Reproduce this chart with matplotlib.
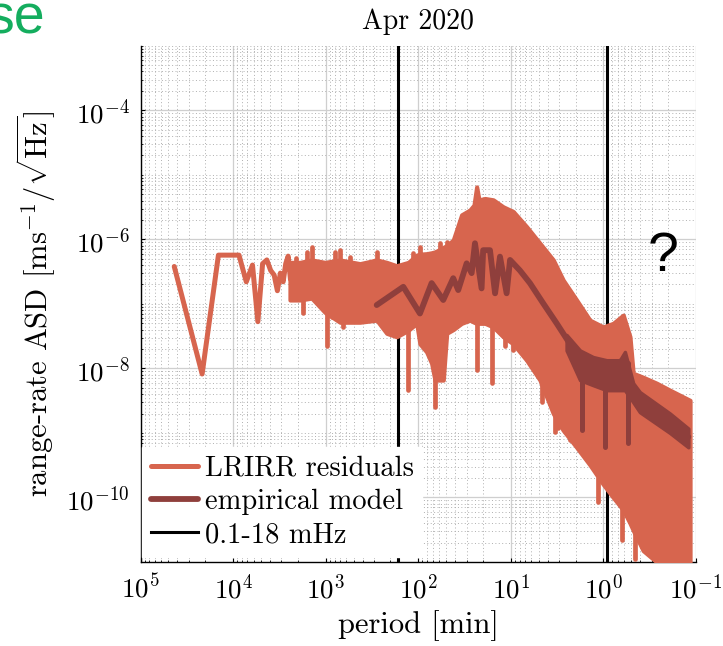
import numpy as np
import matplotlib
matplotlib.use("Agg")
import matplotlib.pyplot as plt
from matplotlib.ticker import LogLocator, NullFormatter

plt.rcParams['font.family'] = ['cmr10', 'DejaVu Serif']
plt.rcParams['mathtext.fontset'] = 'cm'
plt.rcParams['axes.formatter.use_mathtext'] = True
plt.rcParams['axes.unicode_minus'] = False

# ---------------- data (period in min, ASD in m s^-1 / sqrt(Hz)) ----------------
# sparse low-frequency part of the residual spectrum
resid_period = [43200, 21600, 14400, 10800, 8640, 7200, 6171, 5400, 4800, 4320,
                3927, 3600, 3323, 3086, 2880, 2700, 2541, 2400]
resid_asd = [3.8e-7, 8.2e-9, 5.7e-7, 5.7e-7, 5.7e-7, 2.2e-7, 4.0e-7, 5.3e-8, 4.2e-7, 4.8e-7,
             3.3e-7, 2.8e-7, 1.6e-7, 3.0e-7, 2.2e-7, 4.2e-7, 5.5e-7, 2.4e-7]

# dense part of the residual spectrum: envelope (upper / lower)
band_period = [2430, 1894, 1417, 1018, 701, 426, 281, 219, 171, 128, 104, 95.9, 81.2,
               71.7, 66.0, 58.3, 53.7, 49.3, 41.9, 34.0, 27.7, 25.0, 23.4, 22.1, 19.0,
               15.5, 12.1, 9.42, 6.75, 4.85, 3.48, 2.72, 1.95, 1.40, 1.005, 0.784, 0.611,
               0.517, 0.477, 0.372, 0.266, 0.191, 0.116]
band_high = [4.4e-7, 4.4e-7, 4.8e-7, 4.4e-7, 4.8e-7, 4.2e-7, 4.8e-7, 4.4e-7, 3.9e-7, 4.4e-7,
             5.7e-7, 5.9e-7, 6.0e-7, 6.2e-7, 6.4e-7, 7.0e-7, 7.5e-7, 8.0e-7, 9.75e-7, 2.4e-6,
             2.85e-6, 3.4e-6, 6.5e-6, 4.1e-6, 4.3e-6, 4.1e-6, 3.2e-6, 2.7e-6, 1.57e-6, 8.7e-7,
             4.8e-7, 2.34e-7, 1.15e-7, 5.6e-8, 4.4e-8, 5.0e-8, 6.7e-8, 3.1e-8, 8.4e-9, 7.3e-9,
             5.9e-9, 4.6e-9, 3.2e-9]
band_low = [1.15e-7, 1.15e-7, 1.23e-7, 7.4e-8, 5.2e-8, 5.2e-8, 5.6e-8, 3.5e-8, 3.1e-8, 3.9e-8,
            5.0e-8, 2.4e-8, 1.8e-8, 1.2e-8, 6.6e-9, 6.6e-9, 6.6e-9, 3.5e-8, 4.0e-8, 5.0e-8,
            5.6e-8, 5.2e-8, 5.0e-8, 5.0e-8, 5.0e-8, 4.4e-8, 3.1e-8, 2.4e-8, 1.34e-8, 6.6e-9,
            2.0e-9, 1.1e-9, 6.0e-10, 3.2e-10, 1.6e-10, 1.0e-10, 6.4e-11, 4.0e-11, 3.1e-11,
            1.5e-11, 1.0e-11, 8e-12, 8e-12]

# narrow downward spikes of the residual spectrum
spike_period = [1745, 975, 861, 646, 128, 66.0, 23.4, 16.1, 11.6, 9.42, 4.65, 3.34, 3.08,
                2.30, 1.14, 0.636, 0.457]
spike_low = [7.1e-8, 2.2e-8, 6.3e-8, 4.4e-8, 4.6e-9, 2.5e-9, 9.4e-9, 5.9e-9, 2.2e-8, 1.9e-8,
             3.0e-9, 1.04e-9, 1.2e-9, 7.7e-10, 8.6e-11, 2.2e-11, 1.1e-11]
spike_high = [1.2e-7, 8.0e-8, 8.0e-8, 6.0e-8, 4.0e-8, 1.5e-8, 5.0e-8, 5.0e-8, 3.2e-8, 2.6e-8,
              6.5e-9, 2.2e-9, 2.0e-9, 1.1e-9, 2.0e-10, 7.0e-11, 3.2e-11]
# narrow upward teeth of the residual spectrum
tooth_period = [2094, 1604, 1417, 794, 701, 547, 281, 113, 95.9, 58.3, 49.3]
tooth_high = [5.1e-7, 6.4e-7, 7.7e-7, 6.4e-7, 6.8e-7, 5.4e-7, 6.4e-7, 6.1e-7, 7.7e-7, 8.7e-7,
              9.2e-7]
tooth_low = [4.0e-7, 4.0e-7, 4.0e-7, 4.0e-7, 4.0e-7, 4.0e-7, 4.0e-7, 4.0e-7, 4.0e-7, 4.0e-7,
             4.0e-7]

# empirical model
model_period = [281, 145, 95.9, 71.7, 53.7, 41.9, 37.0, 30.0, 26.5, 24.4, 20.7, 19.9, 16.8,
                14.8, 13.1, 11.1, 10.2, 7.98, 6.22, 4.47, 3.20, 2.30, 1.65, 1.18, 0.851,
                0.586, 0.477, 0.266, 0.121]
model_asd = [9.6e-8, 1.84e-7, 7.1e-8, 2.1e-7, 1.15e-7, 2.5e-7, 1.64e-7, 4.25e-7, 3.0e-7, 8.7e-7,
             1.74e-7, 6.8e-7, 6.8e-7, 1.46e-7, 5.4e-7, 1.46e-7, 4.8e-7, 3.3e-7, 2.1e-7, 1.02e-7,
             5.0e-8, 2.4e-8, 1.5e-8, 1.2e-8, 1.13e-8, 1.34e-8, 4.1e-9, 1.78e-9, 8.7e-10]
model_band_period = [2.50, 1.79, 1.29, 0.923, 0.664, 0.586, 0.477, 0.404, 0.191, 0.121]
model_band_high = [3.3e-8, 1.9e-8, 1.5e-8, 1.34e-8, 1.34e-8, 1.8e-8, 5.9e-9, 4.3e-9, 2.0e-9, 1.17e-9]
model_band_low = [1.9e-8, 6.6e-9, 5.5e-9, 4.6e-9, 4.6e-9, 4.6e-9, 3.0e-9, 2.1e-9, 1.0e-9, 6.0e-10]
model_dip_period = [1.72, 0.963, 0.540]
model_dip_low = [1.1e-9, 6.1e-10, 6.9e-10]
model_dip_high = [1.2e-8, 1.2e-8, 1.2e-8]

# band limits 0.1 mHz and 18 mHz expressed as periods in minutes
band_limit_period = [166.7, 0.926]

xtick_vals = [1e5, 1e4, 1e3, 1e2, 1e1, 1e0, 1e-1]
xtick_labels = [r'$10^{5}$', r'$10^{4}$', r'$10^{3}$', r'$10^{2}$', r'$10^{1}$', r'$10^{0}$', r'$10^{-1}$']
ytick_vals = [1e-10, 1e-8, 1e-6, 1e-4]
ytick_labels = [r'$10^{-10}$', r'$10^{-8}$', r'$10^{-6}$', r'$10^{-4}$']

C_RES = '#D7654E'
C_MOD = '#8F3F3C'

# ---------------- figure ----------------
fig = plt.figure(figsize=(7.23, 6.46), dpi=100)
ax = fig.add_axes([140.5 / 723, 84 / 646, 555.5 / 723, 516.2 / 646])
ax.set_xscale('log')
ax.set_yscale('log')
ax.set_xlim(1e5, 1e-1)
ax.set_ylim(1e-11, 1e-3)
ax.set_axisbelow(True)

vl = ax.axvline(band_limit_period[0], color='black', lw=2.2, zorder=2, label='0.1-18 mHz')
ax.axvline(band_limit_period[1], color='black', lw=2.2, zorder=2)

res_line, = ax.plot(resid_period, resid_asd, color=C_RES, lw=3.6, zorder=3,
                    solid_joinstyle='round', solid_capstyle='round', label='LRIRR residuals')
ax.fill_between(band_period, band_low, band_high, facecolor=C_RES, edgecolor=C_RES,
                lw=3.0, zorder=3)
ax.vlines(spike_period, spike_low, spike_high, color=C_RES, lw=3.4, zorder=3,
          capstyle='round')
ax.vlines(tooth_period, tooth_low, tooth_high, color=C_RES, lw=3.4, zorder=3,
          capstyle='round')

mod_line, = ax.plot(model_period, model_asd, color=C_MOD, lw=4.2, zorder=4,
                    solid_joinstyle='round', solid_capstyle='round', label='empirical model')
ax.fill_between(model_band_period, model_band_low, model_band_high, facecolor=C_MOD,
                edgecolor=C_MOD, lw=2.5, zorder=4)
ax.vlines(model_dip_period, model_dip_low, model_dip_high, color=C_MOD, lw=3.6, zorder=4,
          capstyle='round')

# grid & ticks
ax.grid(which='major', color='#cfcfcf', lw=0.9, ls='-')
ax.grid(which='minor', color='#b0b0b0', lw=0.7, ls=(0, (1, 2.5)))
ax.set_xticks(xtick_vals)
ax.set_xticklabels(xtick_labels)
ax.set_yticks(ytick_vals)
ax.set_yticklabels(ytick_labels)
ax.xaxis.set_minor_locator(LogLocator(base=10, subs=np.arange(2, 10), numticks=100))
ax.yaxis.set_minor_locator(LogLocator(base=10, subs=np.arange(1, 10), numticks=100))
ax.xaxis.set_minor_formatter(NullFormatter())
ax.yaxis.set_minor_formatter(NullFormatter())
ax.tick_params(which='major', direction='in', length=3, width=0.8, labelsize=19.5,
               top=False, right=False, pad=8)
ax.tick_params(which='minor', direction='in', length=1.5, width=0.6, top=False, right=False)
for s in ['top', 'right']:
    ax.spines[s].set_visible(False)
for s in ['left', 'bottom']:
    ax.spines[s].set_color('black')
    ax.spines[s].set_linewidth(1.0)

ax.set_title('Apr 2020', fontsize=20, pad=12)
ax.set_xlabel('period [min]', fontsize=22, labelpad=5)
ax.set_ylabel(r'range-rate ASD [ms$^{-1}$/$\sqrt{\mathrm{Hz}}$]', fontsize=22, labelpad=6)

leg = ax.legend(handles=[res_line, mod_line, vl], loc='lower left',
                bbox_to_anchor=(0.003, 0.01), borderaxespad=0, frameon=True,
                fancybox=False, edgecolor='white', facecolor='white', framealpha=1,
                fontsize=20.5, handlelength=1.65, handletextpad=0.25, labelspacing=0.24,
                borderpad=0.3)
leg.set_zorder(10)

fig.text(663 / 723, 1 - 257 / 646, '?', fontsize=40, family='Liberation Sans',
         ha='center', va='center', color='black')
fig.text(45 / 723, 1 - 33 / 646, 'se', fontsize=40, family='Liberation Sans',
         ha='right', va='baseline', color='#14AD5E')

fig.savefig('out.png', dpi=100)
